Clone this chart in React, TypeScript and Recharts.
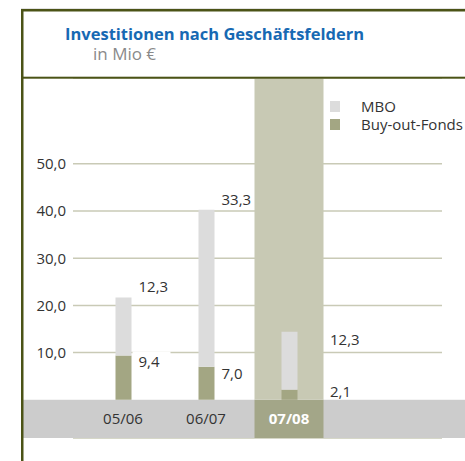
import React from 'react';
import { BarChart, Bar, XAxis, YAxis, CartesianGrid, ReferenceArea, LabelList, Legend } from 'recharts';

const categories = ['05/06', '06/07', '07/08'];
const mboValues = [12.3, 33.3, 12.3];
const buyoutValues = [9.4, 7.0, 2.1];
const highlightCategory = '07/08';
const yTicks = [10, 20, 30, 40, 50];
const yDomain: [number, number] = [-8.1, 68.2];
const seriesNames = { mbo: 'MBO', buyout: 'Buy-out-Fonds' };

const FONT = '"Open Sans", "Noto Sans", sans-serif';
const frameColor = '#4b5316';
const gridColor = '#c9cab6';
const mboColor = '#dcdcdc';
const buyoutColor = '#a3a683';
const hlLight = '#c8c9b4';
const hlDark = '#a3a688';
const bandColor = '#cccccc';
const textColor = '#333333';
const HL_WIDTH = 69;
const BAR_WIDTH = 16;

const data = categories.map((c, i) => ({
  cat: c,
  buyout: buyoutValues[i],
  mbo: mboValues[i],
  hlBottom: c === highlightCategory ? yDomain[0] : null,
  hlTop: c === highlightCategory ? yDomain[1] : null,
}));

const fmt = (v: number) => v.toFixed(1).replace('.', ',');

const getBox = (p: any) => {
  const vb = p.viewBox || {};
  return {
    x: p.x ?? vb.x,
    y: p.y ?? vb.y,
    width: p.width ?? vb.width,
    height: p.height ?? vb.height,
  };
};

const labelX = (x: number, width: number, index: number) => {
  const isHl = categories[index] === highlightCategory;
  return isHl ? x + width / 2 + HL_WIDTH / 2 + 6 : x + width + 7;
};

const renderBuyoutLabel = (p: any) => {
  const { x, y, width } = getBox(p);
  const index = p.index;
  const lx = labelX(x, width, index);
  const baseline = Math.min(y + 12, 397);
  return (
    <g>
      <rect x={lx - 6} y={baseline - 16} width={38} height={18} fill="#ffffff" />
      <text x={lx} y={baseline} fill={textColor} fontSize={15} fontFamily={FONT}>
        {fmt(buyoutValues[index])}
      </text>
    </g>
  );
};

const renderMboLabel = (p: any) => {
  const { x, y, width } = getBox(p);
  const index = p.index;
  const isHl = categories[index] === highlightCategory;
  const lx = labelX(x, width, index);
  const baseline = isHl ? y + 13 : y - 5;
  return (
    <text x={lx} y={baseline} fill={textColor} fontSize={15} fontFamily={FONT}>
      {fmt(mboValues[index])}
    </text>
  );
};

const CategoryTick = (props: any) => {
  const { x, y, payload } = props;
  const hl = payload.value === highlightCategory;
  return (
    <text
      x={x}
      y={y}
      dy={-14}
      textAnchor="middle"
      fill={hl ? '#ffffff' : textColor}
      fontWeight={hl ? 700 : 400}
      fontSize={15}
      fontFamily={FONT}
    >
      {payload.value}
    </text>
  );
};

const BandShape = (props: any) => (
  <rect x={22} y={props.y} width={443} height={props.height} fill={bandColor} />
);

const LegendContent = () => {
  const items = [
    { name: seriesNames.mbo, color: mboColor },
    { name: seriesNames.buyout, color: buyoutColor },
  ];
  return (
    <div style={{ fontFamily: FONT }}>
      {items.map((it) => (
        <div key={it.name} style={{ display: 'flex', alignItems: 'center', height: 17.5 }}>
          <div style={{ width: 10, height: 11, background: it.color, marginRight: 21, flex: 'none' }} />
          <span style={{ fontSize: 15, lineHeight: '17px', color: textColor, whiteSpace: 'nowrap' }}>{it.name}</span>
        </div>
      ))}
    </div>
  );
};

export default function App() {
  return (
    <div style={{ position: 'absolute', left: 0, top: 0, width: 465, height: 461, background: '#fff', fontFamily: FONT }}>
      <BarChart
        width={465}
        height={461}
        data={data}
        margin={{ top: 78, right: 23, bottom: 0, left: 23 }}
        stackOffset="sign"
        barCategoryGap={0}
        barGap={0}
      >
        <CartesianGrid horizontal vertical={false} stroke={gridColor} strokeWidth={1.5} />
        <ReferenceArea y1={yDomain[0]} y2={0} shape={BandShape} ifOverflow="visible" />
        <XAxis
          dataKey="cat"
          padding={{ left: 8.5, right: 111.5 }}
          axisLine={false}
          tickLine={false}
          tickSize={0}
          tickMargin={0}
          height={23}
          interval={0}
          tick={CategoryTick}
        />
        <XAxis xAxisId="hl" dataKey="cat" padding={{ left: 8.5, right: 111.5 }} hide />
        <YAxis
          type="number"
          domain={yDomain}
          ticks={yTicks}
          allowDataOverflow
          width={50}
          axisLine={false}
          tickLine={false}
          tickSize={0}
          tickMargin={7}
          tickFormatter={fmt}
          tick={{ fill: textColor, fontSize: 15, fontFamily: FONT }}
        />
        <Bar xAxisId="hl" dataKey="hlBottom" stackId="hl" fill={hlDark} barSize={HL_WIDTH} isAnimationActive={false} legendType="none" />
        <Bar xAxisId="hl" dataKey="hlTop" stackId="hl" fill={hlLight} barSize={HL_WIDTH} isAnimationActive={false} legendType="none" />
        <Bar dataKey="buyout" name={seriesNames.buyout} stackId="s" fill={buyoutColor} barSize={BAR_WIDTH} isAnimationActive={false}>
          <LabelList dataKey="buyout" content={renderBuyoutLabel} />
        </Bar>
        <Bar dataKey="mbo" name={seriesNames.mbo} stackId="s" fill={mboColor} barSize={BAR_WIDTH} isAnimationActive={false}>
          <LabelList dataKey="mbo" content={renderMboLabel} />
        </Bar>
        <Legend
          layout="vertical"
          align="center"
          verticalAlign="middle"
          content={LegendContent}
          wrapperStyle={{ position: 'absolute', left: 330, top: 98, width: 135 }}
        />
      </BarChart>
      <svg width={465} height={461} style={{ position: 'absolute', left: 0, top: 0, pointerEvents: 'none' }}>
        <rect x={21} y={8} width={444} height={1} fill="#e2e2e2" />
        <rect x={21} y={9} width={444} height={2.5} fill={frameColor} />
        <rect x={21} y={9} width={2.5} height={452} fill={frameColor} />
        <rect x={21} y={76.7} width={444} height={2} fill={frameColor} />
        <text x={65} y={40} fill="#1769b3" fontSize={16.5} fontWeight={700} fontFamily={FONT}>
          Investitionen nach Geschäftsfeldern
        </text>
        <text x={93} y={60} fill="#8a8a8a" fontSize={17} fontFamily={FONT}>
          in Mio €
        </text>
      </svg>
    </div>
  );
}
